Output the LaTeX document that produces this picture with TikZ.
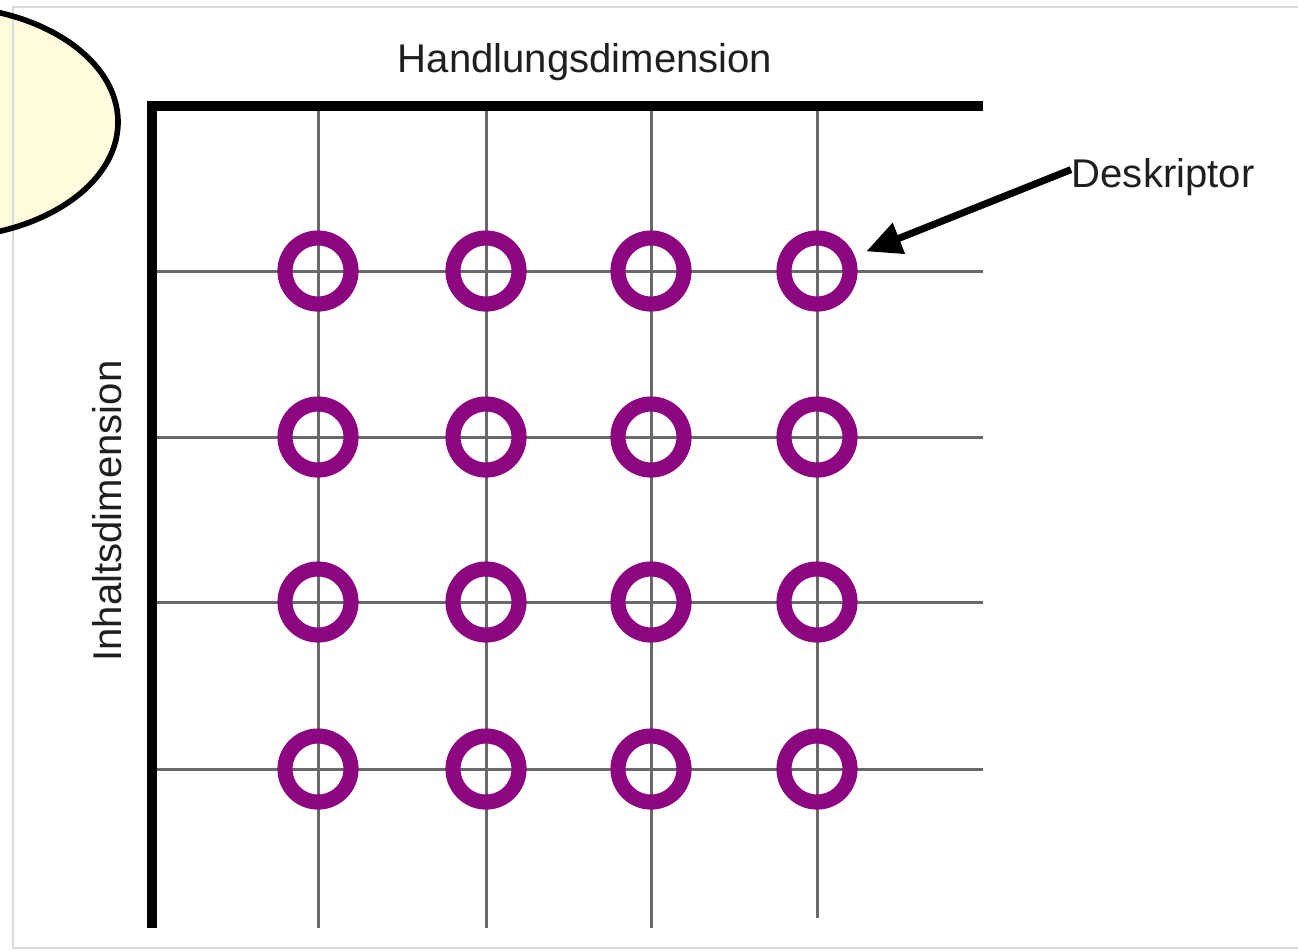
\documentclass[tikz,border=0pt]{standalone}
\usepackage{fontspec}
\setmainfont{Liberation Sans}
\usetikzlibrary{arrows.meta}
\definecolor{ringpurple}{RGB}{140,6,128}
\definecolor{gridgray}{RGB}{105,105,105}
\definecolor{framegray}{RGB}{218,218,218}
\definecolor{notefill}{RGB}{255,252,222}
\tikzset{
  lbl/.style={font=\fontsize{11.4pt}{13pt}\selectfont, text=black!88, inner sep=0pt},
  axis/.style={line width=2.9pt, black, line join=miter},
  gridline/.style={line width=0.85pt, gridgray},
  ring/.style={circle, draw=ringpurple, line width=4.3pt, minimum size=0.66cm, inner sep=0pt},
  pointer/.style={line width=2pt, black, -{Triangle[length=10pt,width=9pt]}, shorten >=0.53cm}
}
\begin{document}
\begin{tikzpicture}[x=0.01cm, y=-0.01cm]
\useasboundingbox (0,0) rectangle (1298,950);
\clip (0,0) rectangle (1298,950);

% note ellipse (partly cut off at the top left)
\fill[notefill] (-60,122) ellipse [x radius=178, y radius=116];
% light page frame
\draw[framegray, line width=0.6pt] (1298,7) -- (13,7) -- (13,948) -- (1298,948);
\draw[black, line width=1.6pt] (-60,122) ellipse [x radius=178, y radius=116];

% grid lines
\foreach \x in {318,486,651} \draw[gridline] (\x,106) -- (\x,928);
\draw[gridline] (817,106) -- (817,918);
\foreach \y in {271,437,602,769} \draw[gridline] (152,\y) -- (983,\y);

% axes
\draw[axis] (983,106) -- (152,106) -- (152,928);

% descriptor rings
\foreach \x/\c in {318/1,486/2,651/3,817/4}
  \foreach \y/\r in {271/1,437/2,602/3,769/4}
    \node[ring] (d\r\c) at (\x,\y) {};

% labels
\node[lbl, anchor=base] (hand) at (585,72) {Handlungsdimension};
\node[lbl, anchor=base, rotate=90] (inhalt) at (121,511) {Inhaltsdimension};
\node[lbl, anchor=base west] (desk) at (1071,187) {Deskriptor};

\draw[pointer] ([yshift=2pt]desk.west) -- (d14.center);
\end{tikzpicture}
\end{document}
